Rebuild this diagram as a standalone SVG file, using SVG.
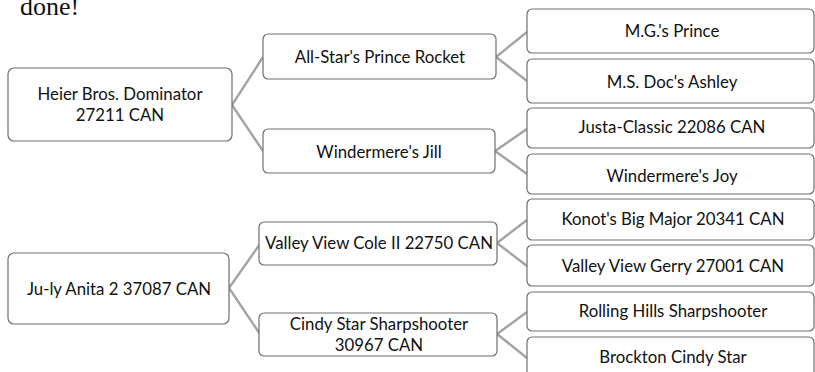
<svg xmlns="http://www.w3.org/2000/svg" width="815" height="372" viewBox="0 0 815 372">
<style>
.box{fill:#ffffff;stroke:#6e6e6e;stroke-width:1.2}
.lbl{font-family:"Lato","Open Sans",sans-serif;font-size:16.8px;fill:#111;text-anchor:middle}
.con{stroke:#a3a3a3;stroke-width:2.4;fill:none}
.title{font-family:"Liberation Serif",serif;font-size:26px;fill:#111}
</style>
<rect width="815" height="372" fill="#fff"/>
<text class="title" x="20" y="15">done!</text>
<g id="connectors">
<polyline class="con" points="263,57 232,105 263,151"/>
<polyline class="con" points="527,32 496,57 527,81"/>
<polyline class="con" points="527,129 495,151 527,174"/>
<polyline class="con" points="260,244 229,288 260,334"/>
<polyline class="con" points="527,220 497,243 527,266"/>
<polyline class="con" points="527,312 497,334 527,358"/>
</g>
<g id="n1"><rect class="box" x="8" y="68" width="224" height="73" rx="6"/><text class="lbl" x="120" y="100">Heier Bros. Dominator</text><text class="lbl" x="120" y="121">27211 CAN</text></g>
<g id="n2"><rect class="box" x="263" y="34" width="233" height="45" rx="5"/><text class="lbl" x="380" y="63">All-Star's Prince Rocket</text></g>
<g id="n3"><rect class="box" x="263" y="129" width="232" height="44" rx="5"/><text class="lbl" x="379" y="158">Windermere's Jill</text></g>
<g id="n4"><rect class="box" x="527" y="9" width="287" height="44" rx="5"/><text class="lbl" x="672" y="37">M.G.'s Prince</text></g>
<g id="n5"><rect class="box" x="527" y="59" width="287" height="44" rx="5"/><text class="lbl" x="672" y="88">M.S. Doc's Ashley</text></g>
<g id="n6"><rect class="box" x="527" y="108" width="287" height="40" rx="5"/><text class="lbl" x="672" y="133">Justa-Classic 22086 CAN</text></g>
<g id="n7"><rect class="box" x="527" y="154" width="287" height="40" rx="5"/><text class="lbl" x="672" y="182">Windermere's Joy</text></g>
<g id="n8"><rect class="box" x="8" y="253" width="221" height="71" rx="6"/><text class="lbl" x="119" y="295">Ju-ly Anita 2 37087 CAN</text></g>
<g id="n9"><rect class="box" x="259" y="222" width="238" height="43" rx="5"/><text class="lbl" x="379" y="249">Valley View Cole II 22750 CAN</text></g>
<g id="n10"><rect class="box" x="259" y="313" width="238" height="43" rx="5"/><text class="lbl" x="379" y="330">Cindy Star Sharpshooter</text><text class="lbl" x="379" y="351">30967 CAN</text></g>
<g id="n11"><rect class="box" x="527" y="199" width="287" height="41" rx="5"/><text class="lbl" x="673" y="225">Konot's Big Major 20341 CAN</text></g>
<g id="n12"><rect class="box" x="527" y="245" width="287" height="41" rx="5"/><text class="lbl" x="673" y="272">Valley View Gerry 27001 CAN</text></g>
<g id="n13"><rect class="box" x="527" y="292" width="287" height="39" rx="5"/><text class="lbl" x="673" y="317">Rolling Hills Sharpshooter</text></g>
<g id="n14"><rect class="box" x="527" y="337" width="287" height="45" rx="5"/><text class="lbl" x="673" y="363">Brockton Cindy Star</text></g>
</svg>
